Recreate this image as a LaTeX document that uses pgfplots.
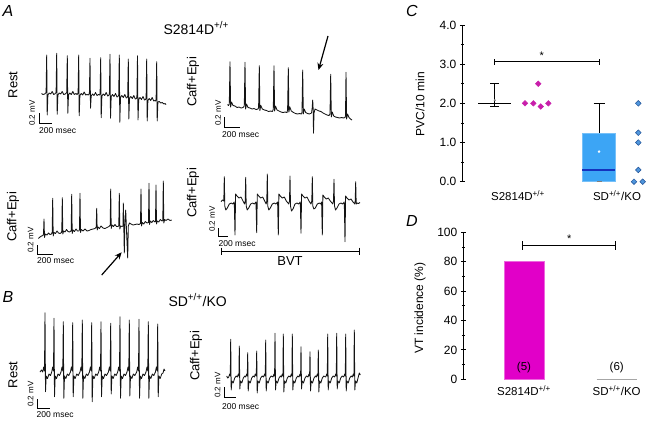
\documentclass[border=0pt]{standalone}
\usepackage{fontspec}
\setmainfont{Liberation Sans}
\usepackage{pgfplots}
\pgfplotsset{compat=1.18}
\usetikzlibrary{arrows.meta}
\definecolor{magC}{RGB}{200,30,170}
\definecolor{magD}{RGB}{225,0,200}
\definecolor{boxblue}{RGB}{60,165,245}
\definecolor{medblue}{RGB}{20,50,190}
\definecolor{ptblue}{RGB}{80,150,220}
\definecolor{ptedge}{RGB}{30,80,150}
\definecolor{trace}{RGB}{20,20,20}
\newcommand{\fs}[1]{\fontsize{#1}{#1}\selectfont}
\begin{document}
\begin{tikzpicture}
\useasboundingbox (0,0) rectangle (650pt,420pt);
% ---------------- overlay axis in pixel units (ECG traces) ----------------
\begin{axis}[at={(0,0)}, anchor=south west, width=650pt, height=420pt, scale only axis,
  xmin=0, xmax=650, ymin=0, ymax=420, y dir=reverse, hide axis, clip=false, no markers]
% A1 Rest
\addplot[trace, line width=0.85pt, line join=round] coordinates {
(41.5,93.5) (43,94.5)
(44.7,94) (46.1,92.5) (46.7,55) (47.2,115) (47.9,95) (49.2,93) (50.7,94) (52.2,91.5) (53.7,94.5)
(54.7,94) (56.1,92.5) (56.7,53.3) (57.2,114.3) (57.9,95) (59.2,93) (60.7,94) (62.2,91.5) (63.7,94.5)
(65.3,94) (66.7,92.5) (67.3,55.7) (67.8,113.3) (68.5,95) (69.8,93) (71.3,94.5) (72.8,91.5) (74.3,94.5) (76,93.5)
(77.1,94.5) (78.1,93) (78.7,55) (79.2,115.7) (79.9,95.5) (81.2,93.5) (82.7,95) (84.2,92) (85.7,95) (87,94.5)
(88.4,95) (89.4,93.5) (90,58.3) (90.5,108.3) (91.2,96) (92.5,94) (94,95.5) (95.5,92.5) (97,95.5) (98.5,94.5)
(99.5,95) (100.1,93.5) (100.7,57.7) (101.2,117.7) (101.9,96) (103.2,94) (104.7,95.5) (106.2,92.5) (107.7,96)
(108.6,95.5) (109.4,94) (110,54.3) (110.5,118.3) (111.2,96.5) (112.5,94.5) (114,96.5) (115.5,93.5) (117,97)
(118,96.5) (118.7,95) (119.3,55) (119.8,122.3) (120.5,97.5) (121.8,95.5) (123.3,97.5) (124.8,94.5) (126.3,98)
(127.2,97.5) (127.7,96) (128.3,59) (128.8,119) (129.5,98.5) (130.8,96.5) (132.3,98.5) (133.8,95.5) (135.3,99)
(136.4,98.5) (136.9,97) (137.5,55.7) (138,120) (138.7,99.5) (140,97.5) (141.5,99.5) (143,96.5) (144.5,100)
(145.6,99.5) (146.1,98) (146.7,59) (147.2,121) (147.9,100.5) (149.2,98.5) (150.7,100.5) (152.2,97.5) (153.7,101) (155,100.5)
(155.6,101) (156.1,99.5) (156.7,61.7) (157.2,121) (157.9,102) (159.2,101.5) (160.7,103) (162.2,102.5) (164,104) (165,103.5) (166,104.5)};
% A2 Caff+Epi
\addplot[trace, line width=0.85pt, line join=round] coordinates {
(227.5,104.5) (228.5,105.5)
(229.3,104) (230,61.7) (230.6,107) (231.5,102) (233,105.5) (235,106) (237,107.5) (239,107) (241,108) (243,107.5)
(244.3,106) (245,62.3) (245.6,109) (246.5,104) (248,107.5) (250,108) (252,109) (254,108.5) (256,109.5) (258,109)
(258.6,107.5) (259.3,65.7) (259.9,110.5) (260.8,105.5) (262.3,109) (264.5,110) (266.5,110.5) (268.5,111.5) (270.5,111) (272.5,111.5)
(273.3,109) (274,65.7) (274.6,111) (275.5,106) (277,110) (279,111) (281,112) (283,112.5) (285,112) (287,112.5)
(287.6,110) (288.3,67.7) (288.9,112) (289.8,107) (291.3,111) (293.5,112.5) (295.5,113.5) (297.5,114) (299.5,113.5) (301.5,114)
(302,112) (302.7,70) (303.3,114) (304.2,109) (305.7,112.5) (307.5,113.5) (309.5,114) (311.5,113)
(312.2,108) (312.7,100) (313.2,110) (313.5,133.3) (314,113) (315,109) (317,110) (319,111) (321,111.5) (323,113) (325,114) (327,115) (329,115.5)
(330,114) (330.7,74.3) (331.3,117) (332.2,112) (333.7,116) (335.5,117) (337.5,117.5) (339.5,118) (341.5,117.5) (343.5,118) (345,117.5)
(345.5,116) (346,72.3) (346.6,119) (347.5,114) (349,117.5) (350.5,119) (352,120)};
% A3 Caff+Epi
\addplot[trace, line width=0.85pt, line join=round] coordinates {
(38.3,238.5) (40,237) (41.5,236) (43,235.5)
(43.5,234) (44,219) (44.5,237.5) (45.3,234) (47,235) (48.5,233) (50,234.5) (51.5,234)
(52.2,232) (52.7,198.3) (53.2,236) (54,232.5) (55.5,233.5) (57,231) (58.5,233) (60,233.5) (61.5,232.5)
(61.8,230.5) (62.3,197.7) (62.8,234) (63.6,231) (65,232) (66.5,229.5) (68,231.5) (69.5,232) (71,231)
(71.2,230) (71.7,194.3) (72.2,233.5) (73,230) (74.5,231.5) (76,229) (77.5,231) (79,231)
(79.5,229) (80,193.3) (80.5,232.5) (81.3,229.5) (83,231) (85,229) (87,231) (89,230.5) (91,229.5) (93,229) (95,228.5)
(96.2,227) (96.7,208.3) (97.2,230) (98,227) (99.5,228.5) (101,226) (103,228) (105,228.5) (107,227.5) (109,226.5)
(110.2,225) (110.7,189) (111.2,228.5) (112,225) (113.5,226.5) (115,224.5) (116.5,226.5) (118,226.5)
(118.8,225.5) (119.3,193.3) (119.8,229) (120.6,226) (122,226.5) (123,226)
(123.3,203) (123.8,226) (124.3,253) (124.8,226) (125.7,210) (126.4,228) (127.7,258) (128.3,226) (129.5,223) (131,224) (133,225) (135,224.5) (137,224) (139,224.5) (140.5,223.5)
(141,189) (141.5,226) (142.3,222.5) (143.8,224) (145.3,221.5) (147,223) (148.5,222.5)
(149,183.3) (149.5,224.5) (150.3,221) (151.8,222.5) (153.3,220.5) (155,222) (155.5,221.5)
(156,185) (156.5,224) (157.3,221) (158.8,222) (160.3,219.5) (162,221) (162.8,220.5)
(163.3,181) (163.8,223) (164.6,219.5) (166,220.5) (168,219) (170,220.5) (171.7,220)};
% A4 BVT
\addplot[trace, line width=0.85pt, line join=round] coordinates {
(221,201.7) (222.5,200) (223.8,201)
(224.3,176.7) (224.8,206) (225.8,210) (227.3,208) (229.3,204) (231.3,203) (232.8,204) (234.3,202)
(235,235) (235.6,194) (237,196) (239,198) (241,197) (243,201) (244.5,204) (245.2,201)
(245.7,177.3) (246.2,206) (247.2,210) (248.7,208) (250.7,204) (252.7,203) (254.2,204) (256,202)
(256.7,232.7) (257.3,194) (258.7,196) (260.7,198) (262.7,197) (264.7,201) (266.2,204) (266.8,201)
(267.3,174) (267.8,206) (268.8,210) (270.3,208) (272.3,204) (274.3,203) (275.8,204) (277.6,202)
(278.3,235) (278.9,194) (280.3,196) (282.3,198) (284.3,197) (286.3,201) (288.8,204) (289.5,201)
(290,176) (290.5,206) (291.5,211) (293,209) (295,204) (297,203) (298.5,204) (300.3,202)
(301,233.3) (301.6,194) (303,196) (305,198) (307,197) (309,201) (311,204) (311.8,201)
(312.3,176.7) (312.8,206) (313.8,209) (315.3,208) (317.3,204) (319.3,203) (320.8,204) (321.6,202)
(322.3,235) (322.9,195) (324.3,197) (326.3,199) (328.3,198) (330.3,201) (332.8,204) (333.5,201)
(334,179.3) (334.5,206) (335.5,210) (337,208) (339,204) (341,203) (342.5,204) (344.3,202)
(345,241.7) (345.6,196) (347,198) (349,200) (351,199) (353,202) (354.8,204) (355.2,201)
(355.7,181.7) (356.2,204) (357.2,203) (358.5,203.5) (360,202.5)};
% B1 Rest
\addplot[trace, line width=0.85pt, line join=round] coordinates {
(40,372) (41.5,370)
(42.7,372) (43.7,367) (44.5,371) (45,312.7) (45.5,391.7) (46.2,376) (47.5,378.5) (49,374) (50.5,375.5)
(51.7,372) (52.7,367) (53.5,371) (54,318.3) (54.5,396.7) (55.2,376) (56.5,378.5) (58,374) (59.5,375.5)
(61,372) (62,367) (62.8,371) (63.3,321.7) (63.8,398.3) (64.5,376) (65.8,378.5) (67.3,374) (68.8,375.5)
(70.4,372) (71.4,367) (72.2,371) (72.7,322.7) (73.2,396.7) (73.9,376) (75.2,378.5) (76.7,374) (78.2,375.5)
(80,372) (81,367) (81.8,371) (82.3,320) (82.8,398.3) (83.5,376) (84.8,378.5) (86.3,374) (87.8,375.5)
(89.4,372) (90.4,367) (91.2,371) (91.7,322.7) (92.2,401.7) (92.9,376) (94.2,378.5) (95.7,374) (97.2,375.5)
(98.7,372) (99.7,367) (100.5,371) (101,321.7) (101.5,396.7) (102.2,376) (103.5,378.5) (105,374) (106.5,375.5)
(108.4,372) (109.4,367) (110.2,371) (110.7,323.3) (111.2,394) (111.9,376) (113.2,378.5) (114.7,374) (116.2,375.5)
(117.7,372) (118.7,367) (119.5,371) (120,316.7) (120.5,398.3) (121.2,376) (122.5,378.5) (124,374) (125.5,375.5)
(127,372) (128,367) (128.8,371) (129.3,320) (129.8,396) (130.5,376) (131.8,378.5) (133.3,374) (134.8,375.5)
(136.7,372) (137.7,367) (138.5,371) (139,319.3) (139.5,398.3) (140.2,376) (141.5,378.5) (143,374) (144.5,375.5)
(146,372) (147,367) (147.8,371) (148.3,321.7) (148.8,398.3) (149.5,376) (150.8,378.5) (152.3,374) (153.8,375.5)
(155.4,372) (156.4,367) (157.2,371) (157.7,324) (158.2,396.7) (158.9,376) (160.2,378.5) (161.7,374) (163,373) (164,369) (165,371)};
% B2 Caff+Epi
\addplot[trace, line width=0.85pt, line join=round] coordinates {
(226.7,376) (227.7,378)
(228.7,377) (229.7,374) (230.3,376) (230.7,339.3) (231.2,390) (231.9,381) (233.2,383) (234.7,378) (236.2,376)
(237.3,377) (238.3,374) (238.9,376) (239.3,346) (239.8,389) (240.5,381) (241.8,383) (243.3,378) (244.8,376)
(245.7,377) (246.7,374) (247.3,376) (247.7,352.7) (248.2,391) (248.9,381) (250.2,383) (251.7,378) (253.2,376) (254.5,377)
(255.2,374) (256.3,376) (256.7,351) (257.2,393) (257.9,381) (259.2,383) (260.7,378) (262.2,376) (263.5,377)
(264.7,374) (265.3,376) (265.7,340) (266.2,391) (266.9,381) (268.2,383) (269.7,378) (271.2,376) (273,377)
(274,374) (274.6,376) (275,333.3) (275.5,390) (276.2,381) (277.5,383) (279,378) (280.5,376) (281.3,377)
(282.3,374) (282.9,376) (283.3,334) (283.8,392) (284.5,381) (285.8,383) (287.3,378) (288.8,376) (290.3,377)
(291.3,374) (291.9,376) (292.3,334) (292.8,390) (293.5,381) (294.8,383) (296.3,378) (297.8,376) (299,377)
(300,374) (300.6,376) (301,346.7) (301.5,389) (302.2,381) (303.5,383) (305,378) (306.5,376) (308,377)
(309,374) (309.6,376) (310,351.7) (310.5,391) (311.2,381) (312.5,383) (314,378) (315.5,376) (316.3,377)
(317.3,374) (317.9,376) (318.3,350) (318.8,392) (319.5,381) (320.8,383) (322.3,378) (323.8,376) (325.7,377)
(326.7,374) (327.3,376) (327.7,334) (328.2,390) (328.9,381) (330.2,383) (331.7,378) (333.2,376) (334.7,377)
(335.7,374) (336.3,376) (336.7,333.3) (337.2,389) (337.9,381) (339.2,383) (340.7,378) (342.2,376) (343.7,377)
(344.7,374) (345.3,376) (345.7,334) (346.2,391) (346.9,381) (348.2,383) (349.7,378) (351.2,376) (352.3,377)
(353.3,374) (353.9,376) (354.3,330) (354.8,390) (355.5,381) (356.8,383) (358.3,377) (359.3,373) (360.3,375)};
% scale bars
\addplot[black, line width=0.6pt] coordinates {(39.3,113) (39.3,123) (51.7,123)};
\addplot[black, line width=0.6pt] coordinates {(224.3,117) (224.3,127.7) (240,127.7)};
\addplot[black, line width=0.6pt] coordinates {(37.3,245) (37.3,254) (53.3,254)};
\addplot[black, line width=0.6pt] coordinates {(218.3,228) (218.3,236.7) (228.3,236.7)};
\addplot[black, line width=0.6pt] coordinates {(37.3,399) (37.3,408) (50,408)};
\addplot[black, line width=0.6pt] coordinates {(224,387) (224,397) (236,397)};
% BVT bar
\addplot[black, line width=0.8pt] coordinates {(221,251) (359,251)};
\addplot[black, line width=0.8pt] coordinates {(221,247.5) (221,254.5)};
\addplot[black, line width=0.8pt] coordinates {(359,247.5) (359,254.5)};
% arrows
\addplot[black, line width=1.2pt, -{Stealth[length=7pt,width=6pt]}] coordinates {(328,36) (318.5,70)};
\addplot[black, line width=1.2pt, -{Stealth[length=7pt,width=6pt]}] coordinates {(101.7,275) (121.7,252.3)};
% texts
\node[font=\fs{16}\itshape] at (8,11) {A};
\node[font=\fs{16}\itshape] at (8,297) {B};
\node[font=\fs{16}\itshape] at (412,11) {C};
\node[font=\fs{16}\itshape] at (412,221) {D};
\node[font=\fs{14}, anchor=west] at (160,28) {S2814D\textsuperscript{+/+}};
\node[font=\fs{14}, anchor=west] at (165,300) {SD\textsuperscript{+/+}/KO};
\node[font=\fs{13}, rotate=90] at (13,85) {Rest};
\node[font=\fs{13}, rotate=90] at (193,82) {Caff+Epi};
\node[font=\fs{13}, rotate=90] at (13,217) {Caff+Epi};
\node[font=\fs{13}, rotate=90] at (193,193) {Caff+Epi};
\node[font=\fs{13}, rotate=90] at (13,375) {Rest};
\node[font=\fs{13}, rotate=90] at (196,356) {Caff+Epi};
\node[font=\fs{8}, rotate=90] at (32,113) {0.2 mV};
\node[font=\fs{8}, rotate=90] at (218,113) {0.2 mV};
\node[font=\fs{8}, rotate=90] at (30.5,240) {0.2 mV};
\node[font=\fs{8}, rotate=90] at (212,219) {0.2 mV};
\node[font=\fs{8}, rotate=90] at (30.5,394) {0.2 mV};
\node[font=\fs{8}, rotate=90] at (217.5,385) {0.2 mV};
\node[font=\fs{8.5}, anchor=west, inner sep=0pt] at (39,131) {200 msec};
\node[font=\fs{8.5}, anchor=west, inner sep=0pt] at (222,135) {200 msec};
\node[font=\fs{8.5}, anchor=west, inner sep=0pt] at (37,261) {200 msec};
\node[font=\fs{8.5}, anchor=west, inner sep=0pt] at (218.5,244) {200 msec};
\node[font=\fs{8.5}, anchor=west, inner sep=0pt] at (36.5,414.5) {200 msec};
\node[font=\fs{8.5}, anchor=west, inner sep=0pt] at (222,406.5) {200 msec};
\node[font=\fs{13}] at (290,261) {BVT};
\node[font=\fs{12}, rotate=90] at (420,104) {PVC/10 min};
\node[font=\fs{12}, rotate=90] at (420,308) {VT incidence (\%)};
\end{axis}
% ---------------- panel C ----------------
\begin{axis}[at={(462.3pt,238.3pt)}, anchor=south west, width=187.7pt, height=156.7pt, scale only axis,
  xmin=462.3, xmax=650, ymin=0, ymax=4, clip=false,
  axis x line=none, axis y line=left, axis line style={-, line width=0.8pt},
  ytick={0,1,2,3,4}, minor ytick={0.5,1.5,2.5,3.5}, tick align=center,
  major tick length=5pt, minor tick length=3pt, tick style={black, line width=0.8pt},
  yticklabel={\pgfmathprintnumber[fixed,fixed zerofill,precision=1,assume math mode=true]{\tick}},
  yticklabel style={font=\fs{12}}]
\addplot[fill=boxblue, draw=boxblue!70!white] coordinates {(582.3,0) (615,0) (615,1.25) (582.3,1.25)} --cycle;
\addplot[medblue, line width=1.2pt] coordinates {(582.3,0.3) (615,0.3)};
\addplot[black, line width=0.8pt] coordinates {(599.3,1.25) (599.3,2.0)};
\addplot[black, line width=0.8pt] coordinates {(593.5,2.0) (605,2.0)};
\addplot[gray, line width=0.6pt] coordinates {(596.5,0) (602,0)};
\addplot[only marks, mark=*, mark size=1pt, mark options={fill=white, draw=white}] coordinates {(599,0.77)};
\addplot[black, line width=0.8pt] coordinates {(478.3,2.0) (511,2.0)};
\addplot[black, line width=0.8pt] coordinates {(494.7,1.92) (494.7,2.5)};
\addplot[black, line width=0.8pt] coordinates {(490,2.5) (499.3,2.5)};
\addplot[black, line width=0.8pt] coordinates {(490,1.92) (499.3,1.92)};
\addplot[only marks, mark=*, mark size=0.8pt, mark options={fill=gray, draw=gray}] coordinates {(494.7,2.08)};
\addplot[only marks, mark=square*, mark size=2pt, mark options={rotate=45, fill=magC, draw=magC}]
 coordinates {(525,2) (533.3,2) (540.7,1.92) (548.3,2) (538.3,2.5)};
\addplot[only marks, mark=square*, mark size=2pt, mark options={rotate=45, fill=ptblue, draw=ptedge, line width=0.5pt}]
 coordinates {(638.3,2) (638.3,1.25) (638.3,1.0) (638.3,0.3) (634,0) (642.7,0)};
\addplot[black, line width=0.8pt] coordinates {(494.3,3.06) (599,3.06)};
\addplot[black, line width=0.8pt] coordinates {(494.3,2.98) (494.3,3.14)};
\addplot[black, line width=0.8pt] coordinates {(599,2.98) (599,3.14)};
\node[font=\fs{11}] at (541.7,3.22) {*};
\node[font=\fs{11.5}] at (518,-0.36) {S2814D\textsuperscript{+/+}};
\node[font=\fs{11.5}] at (617,-0.36) {SD\textsuperscript{+/+}/KO};
\end{axis}
% ---------------- panel D ----------------
\begin{axis}[at={(463.3pt,40.7pt)}, anchor=south west, width=186.7pt, height=147pt, scale only axis,
  xmin=463.3, xmax=650, ymin=0, ymax=100, clip=false,
  axis x line=none, axis y line=left, axis line style={-, line width=0.8pt},
  ytick={0,20,40,60,80,100}, minor ytick={10,30,50,70,90}, tick align=center,
  major tick length=5pt, minor tick length=3pt, tick style={black, line width=0.8pt},
  yticklabel={\pgfmathprintnumber[assume math mode=true]{\tick}},
  yticklabel style={font=\fs{12}}]
\addplot[fill=magD, draw=magD!60!white, line width=0.4pt] coordinates {(504,0) (504,80) (544,80) (544,0)} --cycle;
\addplot[gray!70, line width=0.9pt] coordinates {(596.7,0) (636.7,0)};
\addplot[black, line width=0.8pt] coordinates {(522.7,91) (615,91)};
\addplot[black, line width=0.8pt] coordinates {(522.7,88) (522.7,94)};
\addplot[black, line width=0.8pt] coordinates {(615,88) (615,94)};
\node[font=\fs{11}] at (569.3,95.5) {*};
\node[font=\fs{11.5}] at (524,8) {(5)};
\node[font=\fs{11.5}] at (616.7,8) {(6)};
\node[font=\fs{11.5}] at (524,-7.5) {S2814D\textsuperscript{+/+}};
\node[font=\fs{11.5}] at (616.7,-7.5) {SD\textsuperscript{+/+}/KO};
\end{axis}
\end{tikzpicture}
\end{document}
